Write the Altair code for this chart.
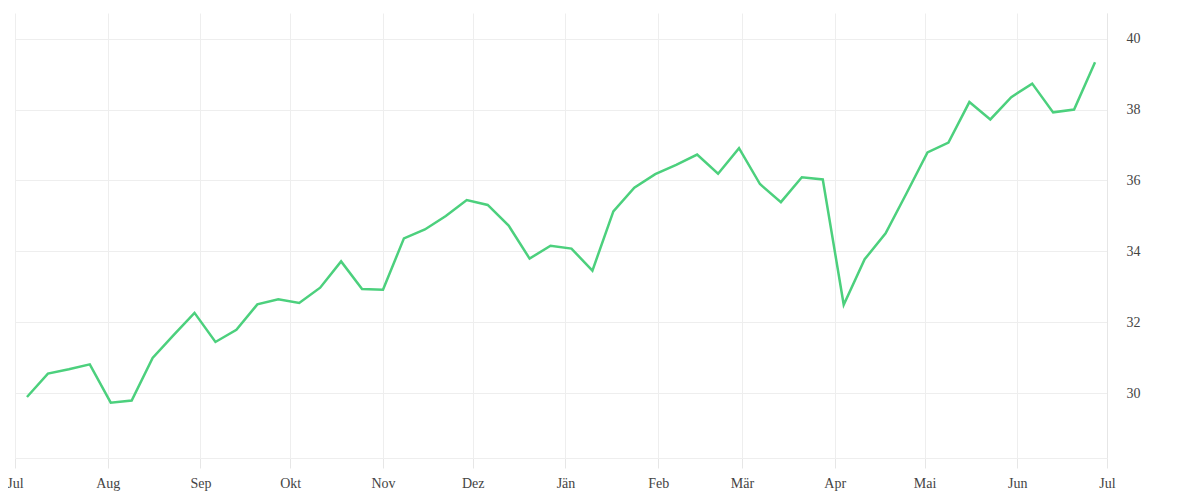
import altair as alt
import pandas as pd

start_date = "2022-07-05"
n_weeks = 52
values = [
    29.90, 30.56, 30.68, 30.82, 29.74, 29.80, 31.00, 31.64, 32.27, 31.45,
    31.79, 32.51, 32.65, 32.55, 32.98, 33.72, 32.94, 32.92, 34.37, 34.62,
    35.00, 35.45, 35.31, 34.73, 33.80, 34.16, 34.08, 33.46, 35.13, 35.80,
    36.18, 36.44, 36.73, 36.19, 36.91, 35.90, 35.39, 36.09, 36.03, 32.50,
    33.78, 34.51, 35.64, 36.79, 37.07, 38.21, 37.72, 38.35, 38.73, 37.92,
    38.00, 39.33,
]
month_names = ["Jän", "Feb", "Mär", "Apr", "Mai", "Jun",
               "Jul", "Aug", "Sep", "Okt", "Nov", "Dez"]
y_ticks = [30, 32, 34, 36, 38, 40]

dates = pd.date_range(start_date, periods=n_weeks, freq="7D")
df = pd.DataFrame({"date": dates.strftime("%Y-%m-%dT00:00:00"), "value": values})

# month tick positions: Jul 2022 .. Jul 2023
tick_months = [(2022, m) for m in range(7, 13)] + [(2023, m) for m in range(1, 8)]
x_ticks = [alt.DateTime(year=y, month=m, date=1) for y, m in tick_months]

label_expr = "[" + ",".join("'%s'" % n for n in month_names) + "][month(datum.value)]"

FONT = "Liberation Serif"

chart = alt.Chart(df).mark_line(color="#4cd07d", strokeWidth=2.5).encode(
    x=alt.X(
        "date:T",
        scale=alt.Scale(domain=[alt.DateTime(year=2022, month=7, date=1),
                                alt.DateTime(year=2023, month=7, date=1)]),
        axis=alt.Axis(
            values=x_ticks,
            labelExpr=label_expr,
            title=None,
            grid=True,
            gridColor="#eeeeee",
            domainColor="#eeeeee",
            tickColor="#e6e6e6",
            tickSize=10,
            labelPadding=8,
            labelFont=FONT,
            labelFontSize=14,
            labelColor="#444444",
            labelFlush=False,
        ),
    ),
    y=alt.Y(
        "value:Q",
        scale=alt.Scale(domain=[28.18, 40.72], nice=False, zero=False),
        axis=alt.Axis(
            orient="right",
            values=y_ticks,
            title=None,
            grid=True,
            gridColor="#eeeeee",
            domainColor="#e6e6e6",
            ticks=False,
            labelPadding=19,
            labelFont=FONT,
            labelFontSize=14,
            labelColor="#444444",
        ),
    ),
).properties(
    width=1092,
    height=445,
    background="white",
    autosize=alt.AutoSizeParams(type="none"),
    padding={"left": 7, "top": 5, "right": 80, "bottom": 40},
).configure_view(strokeWidth=0, stroke=None)

chart.save("out.html", embed_options={"renderer": "svg", "actions": False})
